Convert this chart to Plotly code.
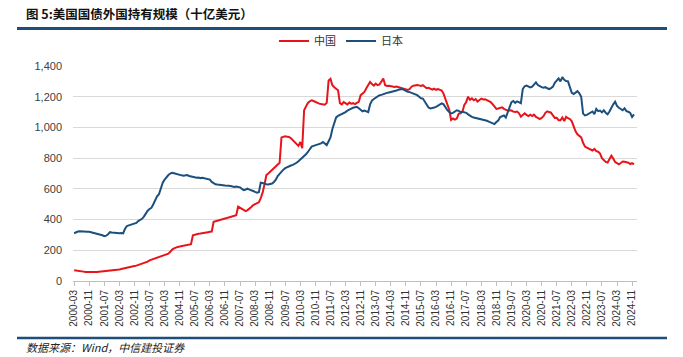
import pandas as pd
import plotly.graph_objects as go

# Monthly categories 2000-03 .. 2024-12
months = [p.strftime("%Y-%m") for p in pd.period_range("2000-03", "2024-12", freq="M")]

tick_labels = [
    "2000-03", "2000-11", "2001-07", "2002-03", "2002-11", "2003-07", "2004-03", "2004-11",
    "2005-07", "2006-03", "2006-11", "2007-07", "2008-03", "2008-11", "2009-07", "2010-03",
    "2010-11", "2011-07", "2012-03", "2012-11", "2013-07", "2014-03", "2014-11", "2015-07",
    "2016-03", "2016-11", "2017-07", "2018-03", "2018-11", "2019-07", "2020-03", "2020-11",
    "2021-07", "2022-03", "2022-11", "2023-07", "2024-03", "2024-11",
]

china = [
    70, 69, 67, 65, 63, 61, 59, 58, 57, 57,                              # 2000
    57, 58, 59, 60, 61, 62, 64, 66, 68, 69, 70, 72,                      # 2001
    73, 74, 75, 78, 80, 82, 85, 88, 91, 94, 97, 100,                     # 2002
    104, 108, 112, 116, 120, 126, 134, 138, 142, 146, 150, 154,          # 2003
    158, 162, 166, 170, 178, 190, 205, 212, 218, 222, 224, 226,          # 2004
    228, 230, 234, 238, 240, 298, 302, 305, 308, 309, 310, 312,          # 2005
    314, 318, 320, 322, 385, 388, 390, 394, 397, 400, 404, 410,          # 2006
    414, 418, 422, 425, 428, 484, 478, 471, 462, 455, 462, 470,          # 2007
    482, 495, 502, 508, 512, 540, 575, 630, 690, 700, 712, 725,          # 2008
    738, 748, 760, 770, 935, 940, 942, 940, 938, 930, 918, 905,          # 2009
    890, 880, 905, 864, 1112, 1140, 1160, 1170, 1177, 1172, 1165, 1160,  # 2010
    1155, 1152, 1150, 1148, 1160, 1305, 1316, 1275, 1262, 1250, 1242, 1158,  # 2011
    1150, 1165, 1158, 1150, 1162, 1155, 1158, 1152, 1160, 1167, 1210, 1220,  # 2012
    1231, 1255, 1281, 1296, 1282, 1272, 1285, 1275, 1280, 1303, 1318, 1275,  # 2013
    1270, 1272, 1268, 1266, 1264, 1266, 1262, 1260, 1258, 1250, 1246, 1244,  # 2014
    1250, 1265, 1272, 1275, 1276, 1274, 1270, 1275, 1262, 1255, 1258, 1250,  # 2015
    1246, 1252, 1245, 1250, 1244, 1240, 1219, 1185, 1157, 1115, 1049, 1058,  # 2016
    1051, 1058, 1088, 1092, 1102, 1147, 1166, 1200, 1180, 1189, 1177, 1184,  # 2017
    1168, 1176, 1188, 1182, 1183, 1178, 1171, 1165, 1151, 1139, 1121, 1123,  # 2018
    1127, 1131, 1121, 1113, 1110, 1112, 1110, 1103, 1100, 1103, 1092, 1070,  # 2019
    1079, 1092, 1082, 1074, 1083, 1074, 1083, 1068, 1062, 1054, 1062, 1073,  # 2020
    1095, 1105, 1100, 1096, 1078, 1062, 1063, 1047, 1047, 1065, 1041, 1069,  # 2021
    1060, 1055, 1040, 1000, 975, 955, 945, 935, 900, 875, 868, 862,      # 2022
    857, 850, 860, 845, 842, 830, 800, 788, 775, 771, 790, 816,          # 2023
    797, 775, 767, 760, 768, 778, 776, 774, 770, 762, 768, 760,          # 2024
]

japan = [
    311, 318, 322, 324, 322, 320, 318, 320, 321, 318,                    # 2000
    316, 312, 308, 305, 302, 298, 292, 295, 305, 318, 316, 314,          # 2001
    312, 310, 311, 313, 310, 340, 358, 362, 366, 372, 376, 378,          # 2002
    390, 398, 405, 419, 440, 458, 469, 476, 500, 530, 551, 565,          # 2003
    600, 640, 660, 679, 690, 700, 705, 702, 698, 692, 690, 688,          # 2004
    685, 688, 690, 684, 680, 678, 675, 672, 674, 670, 672, 670,          # 2005
    668, 664, 660, 645, 635, 630, 628, 625, 622, 624, 622, 623,          # 2006
    620, 618, 616, 612, 615, 614, 610, 600, 592, 596, 601, 595,          # 2007
    588, 586, 580, 575, 578, 640, 638, 632, 630, 628, 630, 635,          # 2008
    645, 660, 684, 700, 712, 725, 735, 742, 748, 752, 756, 762,          # 2009
    770, 780, 790, 800, 812, 825, 840, 860, 875, 880, 884, 886,          # 2010
    888, 896, 905, 892, 885, 910, 935, 990, 1030, 1065, 1075, 1080,      # 2011
    1088, 1095, 1100, 1110, 1118, 1123, 1128, 1130, 1134, 1125, 1112, 1105,  # 2012
    1110, 1105, 1100, 1150, 1175, 1185, 1195, 1200, 1210, 1212, 1218, 1222,  # 2013
    1225, 1228, 1230, 1232, 1236, 1240, 1245, 1248, 1250, 1245, 1238, 1232,  # 2014
    1230, 1226, 1222, 1218, 1210, 1200, 1190, 1188, 1170, 1150, 1130, 1123,  # 2015
    1125, 1130, 1134, 1140, 1148, 1156, 1150, 1130, 1112, 1100, 1091, 1095,  # 2016
    1105, 1112, 1108, 1100, 1102, 1098, 1095, 1085, 1075, 1069, 1065, 1062,  # 2017
    1062, 1058, 1055, 1050, 1048, 1043, 1038, 1032, 1026, 1022, 1035, 1045,  # 2018
    1068, 1072, 1078, 1064, 1095, 1122, 1165, 1172, 1160, 1170, 1162, 1158,  # 2019
    1250, 1268, 1272, 1266, 1261, 1265, 1280, 1293, 1276, 1268, 1262, 1258,  # 2020
    1262, 1255, 1250, 1256, 1266, 1290, 1306, 1319, 1300, 1328, 1310, 1302,  # 2021
    1300, 1260, 1225, 1218, 1228, 1236, 1222, 1200, 1090, 1078, 1082, 1090,  # 2022
    1095, 1104, 1087, 1120, 1106, 1110, 1098, 1112, 1096, 1086, 1104, 1130,  # 2023
    1150, 1167, 1140, 1128, 1120, 1112, 1124, 1106, 1102, 1095, 1068, 1085,  # 2024
]

assert len(china) == len(months) == len(japan), (len(china), len(japan), len(months))

title_text = "图 5:美国国债外国持有规模（十亿美元）"
source_text = "数据来源：Wind，中信建投证券"
series_names = ["中国", "日本"]
series_colors = ["#E8141B", "#1B4F7E"]

FONT = "Liberation Sans, Arial, Noto Sans CJK SC, sans-serif"
CJK = "Noto Sans CJK SC, sans-serif"

fig = go.Figure()
for name, vals, col in zip(series_names, [china, japan], series_colors):
    fig.add_trace(go.Scatter(x=months, y=vals, name=name, mode="lines",
                             line=dict(color=col, width=2)))

W, H = 683, 357
L, R, T, B = 73, 46, 66, 76
pw, ph = W - L - R, H - T - B

def px_x(x):
    return (x - L) / pw

def px_y(y):
    return (H - B - y) / ph

fig.update_layout(
    width=W, height=H,
    margin=dict(l=L, r=R, t=T, b=B),
    paper_bgcolor="white", plot_bgcolor="white",
    font=dict(family=FONT, color="#333333", size=11),
    showlegend=True,
    legend=dict(orientation="h", x=px_x(341), xanchor="center", y=px_y(41), yanchor="middle",
                font=dict(family=CJK, size=11, color="#333333"), bgcolor="rgba(0,0,0,0)",
                itemwidth=30, tracegroupgap=0),
    xaxis=dict(type="category", range=[-0.6, 298.6], showgrid=False, zeroline=False,
               showline=True, linecolor="#bfbfbf", linewidth=1,
               ticks="outside", ticklen=4, tickcolor="#bfbfbf", tickwidth=1,
               tickmode="array", tickvals=tick_labels, ticktext=tick_labels,
               tickangle=-90, tickfont=dict(size=10, color="#333333", family=FONT)),
    yaxis=dict(range=[0, 1400], dtick=200, tick0=0, tickformat=",", showgrid=True,
               gridcolor="#d9d9d9", gridwidth=1, zeroline=False, showline=False,
               ticks="", ticklabelstandoff=10,
               tickfont=dict(size=11, color="#404040", family=FONT)),
    shapes=[
        dict(type="line", xref="paper", yref="paper", x0=px_x(17), x1=px_x(667),
             y0=px_y(28.5), y1=px_y(28.5), line=dict(color="#1F4E79", width=3)),
        dict(type="line", xref="paper", yref="paper", x0=px_x(17), x1=px_x(667),
             y0=px_y(338), y1=px_y(338), line=dict(color="#1F4E79", width=2.5)),
    ],
    annotations=[
        dict(text="<b>" + title_text + "</b>", xref="paper", yref="paper",
             x=px_x(24), y=px_y(13.5), xanchor="left", yanchor="middle", showarrow=False,
             font=dict(family=CJK, size=12.5, color="#111111")),
        dict(text="<i>" + source_text + "</i>", xref="paper", yref="paper",
             x=px_x(24), y=px_y(347), xanchor="left", yanchor="middle", showarrow=False,
             font=dict(family=CJK, size=11, color="#222222")),
    ],
)

fig.write_html("out.html", config={"displayModeBar": False},
               post_script="document.body.style.margin='0';")
